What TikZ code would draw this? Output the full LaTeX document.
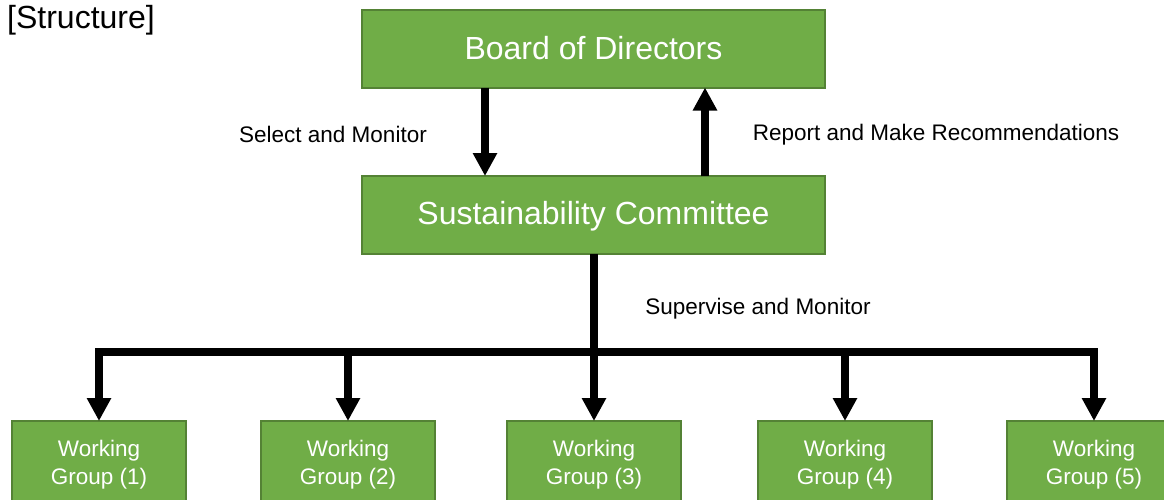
\documentclass[tikz,border=0pt]{standalone}
\usepackage{fontspec}
\setmainfont{Liberation Sans}
\usetikzlibrary{arrows.meta}
\definecolor{boxfill}{HTML}{70AD47}
\definecolor{boxline}{HTML}{548235}
\begin{document}
\begin{tikzpicture}[x=1pt,y=-1pt,
 box/.style={draw=boxline, line width=2pt, fill=boxfill, text=white, inner sep=0pt, outer sep=0pt, align=center},
 bigbox/.style={box, minimum width=463pt, minimum height=78pt, font=\fontsize{32}{38}\selectfont},
 wgbox/.style={box, minimum width=174pt, minimum height=80pt, font=\fontsize{22.5}{28}\selectfont, text height=51.4pt, text depth=4.7pt},
 lbl/.style={font=\fontsize{22.5}{28}\selectfont, inner sep=0pt},
 conn/.style={line width=7.5pt},
 arr/.style={conn, -{Triangle[width=23pt,length=23pt]}},
 ]
\useasboundingbox (0,0) rectangle (1164,499);
\node[font=\fontsize{32}{38}\selectfont, inner sep=0pt, anchor=west] (title) at (7,20) {[Structure]};
\node[bigbox] (bod) at (593.5,48.5) {Board of Directors};
\node[bigbox, text height=26.5pt, text depth=6.7pt] (sc) at (593.5,215) {Sustainability Committee};
\node[wgbox] (wg1) at (99,461) {Working\\Group (1)};
\node[wgbox] (wg2) at (348,461) {Working\\Group (2)};
\node[wgbox] (wg3) at (594,461) {Working\\Group (3)};
\node[wgbox] (wg4) at (845,461) {Working\\Group (4)};
\node[wgbox] (wg5) at (1094,461) {Working\\Group (5)};
\node[lbl] (sel) at (333,134) {Select and Monitor};
\node[lbl] (rep) at (936,135) {Report and Make Recommendations};
\node[lbl] (sup) at (758,308.5) {Supervise and Monitor};
\draw[arr] ([xshift=-108.5pt]bod.south) -- ([xshift=-108.5pt]sc.north);
\draw[arr] ([xshift=111.5pt]sc.north) -- ([xshift=111.5pt]bod.south);
\coordinate (bus) at (594,352);
\draw[conn] (sc.south -| bus) -- (bus);
\draw[arr] (bus) -| (wg1.north);
\draw[arr] (bus) -| (wg2.north);
\draw[arr] (bus) -- (wg3.north);
\draw[arr] (bus) -| (wg4.north);
\draw[arr] (bus) -| (wg5.north);
\end{tikzpicture}
\end{document}
